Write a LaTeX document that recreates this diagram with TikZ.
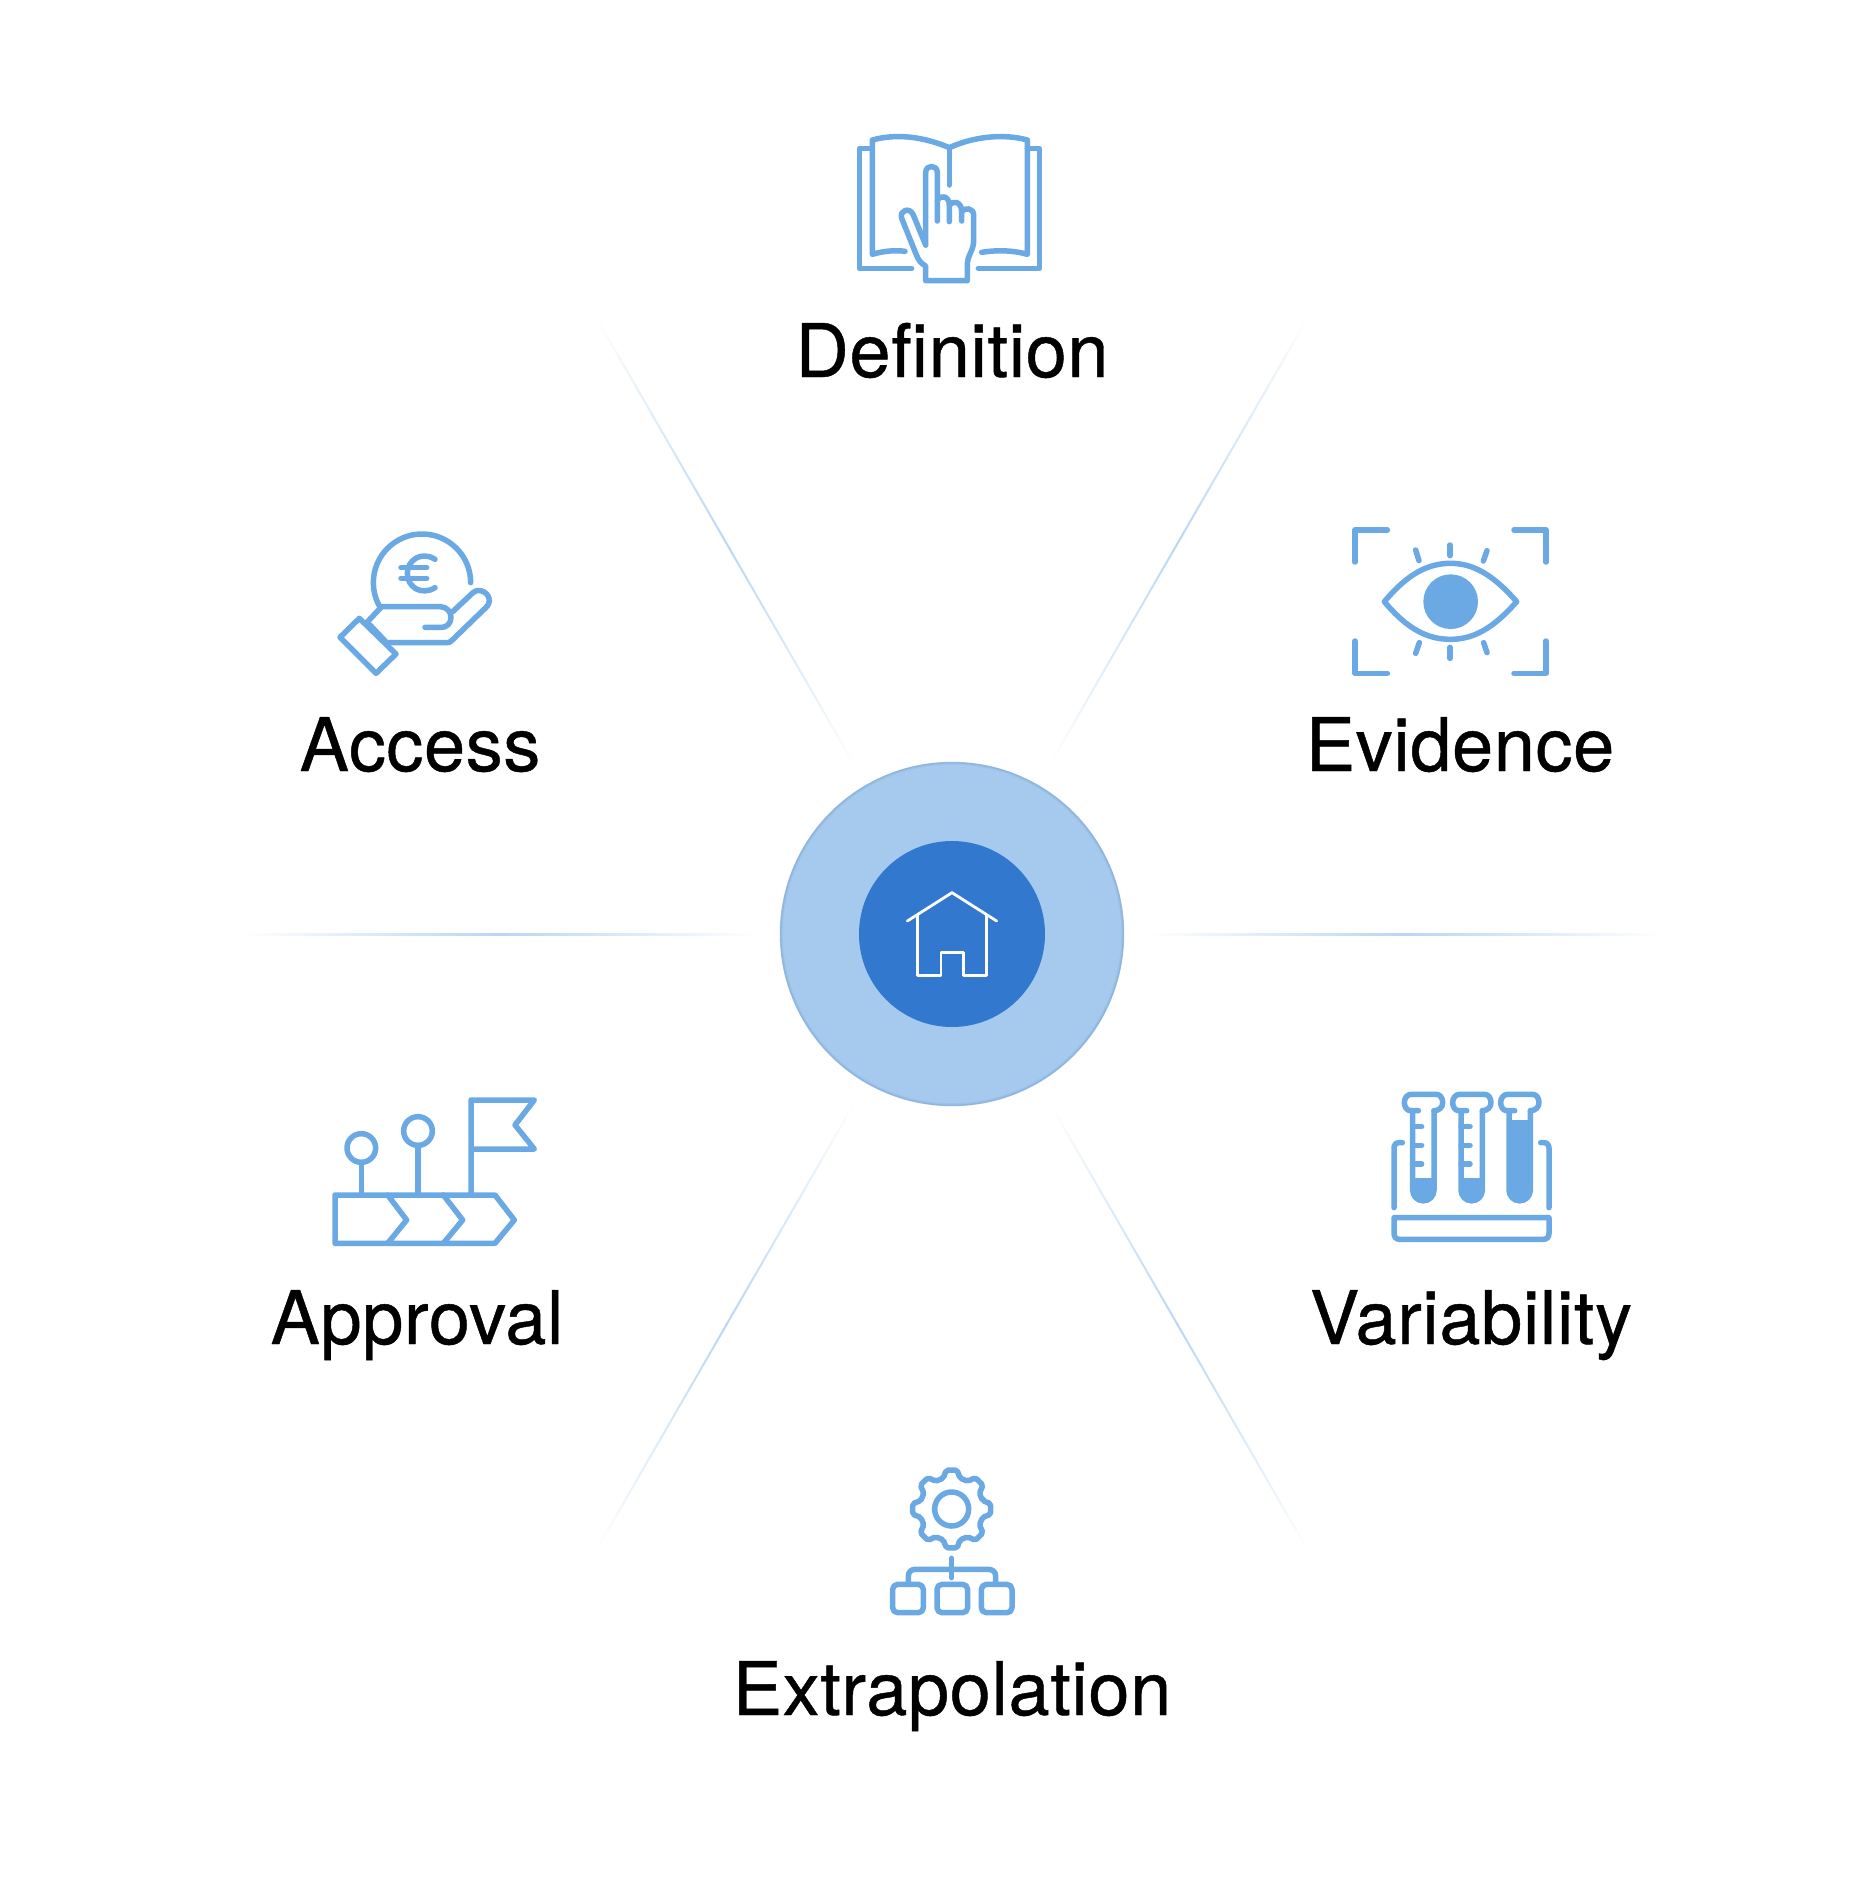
\documentclass[tikz,border=0pt]{standalone}
\usepackage{fontspec}
\setmainfont{TeX Gyre Heros}
\newfontfamily\labelfont[FakeBold=0.6,LetterSpace=0.8]{TeX Gyre Heros}
\definecolor{icon}{HTML}{6AA9E4}
\definecolor{ringfill}{HTML}{A5CAEE}
\definecolor{ringedge}{HTML}{7FA6D4}
\definecolor{hub}{HTML}{3178CE}
\definecolor{raycol}{HTML}{B9D6F2}
\tikzset{
  iconline/.style={draw=icon,line width=5.5pt,line cap=round,line join=round},
  zoomed/.style={shift={#1},scale=1/3},
  caption/.style={anchor=base,text=black,inner sep=0pt,font=\labelfont\fontsize{74}{80}\selectfont},
}
\newcommand{\rayline}[1]{%
  \begin{scope}[shift={(952,934)},rotate=#1]
    \shade[left color=white,right color=white,middle color=raycol]
      (195,-1) rectangle (710,1);
  \end{scope}}
\newcommand{\tube}[1]{%
  \begin{scope}[shift={(#1,0)}]
    \draw[iconline] (130,92) -- (107,92) .. controls (95,92) and (88,80) .. (88,68)
      .. controls (88,53) and (97,43) .. (110,43) -- (183,43)
      .. controls (195,43) and (203,53) .. (203,68) .. controls (203,82) and (192,92) .. (177,92);
    \draw[iconline] (113,92) -- (113,330) arc[start angle=180,end angle=0,radius=32] -- (177,92);
  \end{scope}}
\begin{document}
\begin{tikzpicture}[x=1pt,y=-1pt]
\useasboundingbox (0,0) rectangle (1874,1877);
\fill[white] (0,0) rectangle (1874,1877);

% rays
\rayline{0}\rayline{60}\rayline{120}\rayline{180}\rayline{240}\rayline{300}

% hub
\fill[ringfill] (952,934) circle[radius=172];
\draw[ringedge,opacity=.55,line width=1.6pt] (952,934) circle[radius=171.4];
\draw[ringedge,opacity=.2,line width=1.6pt] (952,934) circle[radius=170];
\fill[hub] (952,934) circle[radius=93];

% house
\begin{scope}[zoomed={(760,740)}]
  \draw[white,line width=2.8pt,line cap=round,line join=round]
    (442,543) -- (576,458) -- (710,543);
  \draw[white,line width=2.8pt,line cap=round,line join=round]
    (473,525) -- (473,707) -- (543,707) -- (543,637) -- (610,637) -- (610,707) -- (680,707) -- (680,525);
\end{scope}

% Definition: book
\begin{scope}[zoomed={(830,110)}]
  \draw[iconline] (245,475) -- (88,475) -- (88,116) -- (125,116);
  \draw[iconline] (445,475) -- (628,475) -- (628,116) -- (592,116);
  \draw[iconline] (225,424) .. controls (195,420) and (160,423) .. (127,433) -- (127,90)
     .. controls (200,70) and (280,80) .. (358,113)
     .. controls (430,80) and (520,70) .. (592,90) -- (592,433)
     .. controls (545,420) and (500,420) .. (455,427);
  \draw[iconline] (358,113) -- (358,225);
  \draw[iconline] (287,405) -- (287,188) .. controls (287,163) and (322,163) .. (322,188) -- (322,333);
  \draw[iconline] (322,272) .. controls (330,252) and (358,258) .. (358,285) -- (358,335);
  \draw[iconline] (358,285) .. controls (370,270) and (395,275) .. (395,305) -- (395,333);
  \draw[iconline] (395,305) .. controls (405,290) and (431,295) .. (431,315) -- (431,395)
     .. controls (430,420) and (412,440) .. (412,460) -- (412,512) -- (287,512) -- (287,468)
     .. controls (272,460) and (265,450) .. (258,432) -- (215,325)
     .. controls (207,300) and (240,290) .. (250,315) -- (287,405);
\end{scope}

% Evidence: eye
\begin{scope}[zoomed={(1330,510)}]
  \draw[iconline] (75,156) -- (75,60) -- (172,60);
  \draw[iconline] (552,60) -- (648,60) -- (648,156);
  \draw[iconline] (75,393) -- (75,490) -- (172,490);
  \draw[iconline] (552,490) -- (648,490) -- (648,393);
  \draw[iconline] (163,275) .. controls (230,195) and (290,160) .. (362,160)
     .. controls (430,160) and (490,195) .. (560,275)
     .. controls (490,355) and (430,388) .. (362,388)
     .. controls (290,388) and (230,355) .. cycle;
  \fill[icon] (362,275) circle[radius=82];
  \draw[iconline] (360,105) -- (360,137);
  \draw[iconline] (257,120) -- (267,152);
  \draw[iconline] (471,122) -- (460,153);
  \draw[iconline] (360,412) -- (360,445);
  \draw[iconline] (268,398) -- (257,430);
  \draw[iconline] (461,398) -- (471,428);
\end{scope}

% Access: hand and coin
\begin{scope}[zoomed={(320,510)}]
  \draw[iconline] (452,218) arc[start angle=0,end angle=-207.6,radius=146];
  \draw[iconline] (345,148) .. controls (305,122) and (262,150) .. (262,190)
     .. controls (262,232) and (305,258) .. (345,233);
  \draw[iconline] (243,173) -- (320,173);
  \draw[iconline] (243,205) -- (320,205);
  \draw[iconline] (118,325) -- (228,432) -- (168,490) -- (60,382) -- cycle;
  \draw[iconline] (140,338) -- (185,290) -- (360,290) .. controls (380,290) and (393,305) .. (393,322)
     .. controls (393,340) and (380,352) .. (365,352) -- (315,352);
  \draw[iconline] (398,305) -- (460,247) .. controls (480,232) and (508,250) .. (508,272)
     .. controls (508,285) and (498,292) .. (490,300) -- (395,392)
     .. controls (390,397) and (385,398) .. (380,398) -- (200,398) -- (150,345);
\end{scope}

% Approval: milestones and flag
\begin{scope}[zoomed={(320,1080)}]
  \draw[iconline] (124,204) circle[radius=43];
  \draw[iconline] (294,153) circle[radius=43];
  \draw[iconline] (124,247) -- (124,345);
  \draw[iconline] (294,196) -- (294,345);
  \draw[iconline] (453,345) -- (453,60) -- (643,60) -- (585,135) -- (643,207) -- (453,207);
  \draw[iconline] (45,345) -- (525,345) -- (583,420) -- (525,490) -- (45,490) -- cycle;
  \draw[iconline] (203,345) -- (260,420) -- (203,490);
  \draw[iconline] (370,345) -- (428,420) -- (370,490);
\end{scope}

% Variability: test tubes
\begin{scope}[zoomed={(1375,1080)}]
  \fill[icon] (107,295) rectangle (184,332);
  \fill[icon] (145,332) circle[radius=38.5];
  \fill[icon] (252,295) rectangle (329,332);
  \fill[icon] (290,332) circle[radius=38.5];
  \fill[icon] (396,120) rectangle (473,332);
  \fill[icon] (434,332) circle[radius=38.5];
  \tube{0}\tube{145}\tube{289}
  \foreach \dx in {0,145}{
    \draw[iconline] (113+\dx,140) -- (140+\dx,140);
    \draw[iconline] (113+\dx,196) -- (140+\dx,196);
    \draw[iconline] (113+\dx,252) -- (140+\dx,252);
  }
  \draw[iconline] (57,383) -- (57,205) .. controls (57,195) and (62,188) .. (72,188) -- (82,188);
  \draw[iconline] (522,383) -- (522,205) .. controls (522,195) and (517,188) .. (507,188) -- (497,188);
  \draw[iconline] (57,413) -- (522,413) -- (522,460) .. controls (522,472) and (515,478) .. (505,478)
     -- (74,478) .. controls (64,478) and (57,472) .. (57,460) -- cycle;
\end{scope}

% Extrapolation: gear and tree
\begin{scope}[zoomed={(870,1450)}]
  \draw[iconline] (245,177) circle[radius=51];
  \begin{scope}[shift={(245,177)}]
    \draw[iconline,rounded corners=2pt] (-15:96)
      \foreach \a in {0,45,...,315}{ -- (\a-15:96) -- (\a-8:118) -- (\a+8:118) -- (\a+15:96)} -- cycle;
  \end{scope}
  \draw[iconline] (245,325) -- (245,383);
  \draw[iconline] (115,400) -- (115,378) .. controls (115,365) and (125,358) .. (135,358) -- (355,358)
     .. controls (367,358) and (377,365) .. (377,378) -- (377,400);
  \draw[iconline,rounded corners=5pt] (68,403) rectangle (160,488);
  \draw[iconline,rounded corners=5pt] (201,403) rectangle (293,488);
  \draw[iconline,rounded corners=5pt] (334,403) rectangle (426,488);
\end{scope}

% labels
\node[caption] (definition) at (952,377) {Definition};
\node[caption] (access) at (420,771) {Access};
\node[caption] (evidence) at (1460,771) {Evidence};
\node[caption] (approval) at (417,1344) {Approval};
\node[caption] (variability) at (1471,1344) {Variability};
\node[caption] (extrapolation) at (952,1715) {Extrapolation};
\end{tikzpicture}
\end{document}
